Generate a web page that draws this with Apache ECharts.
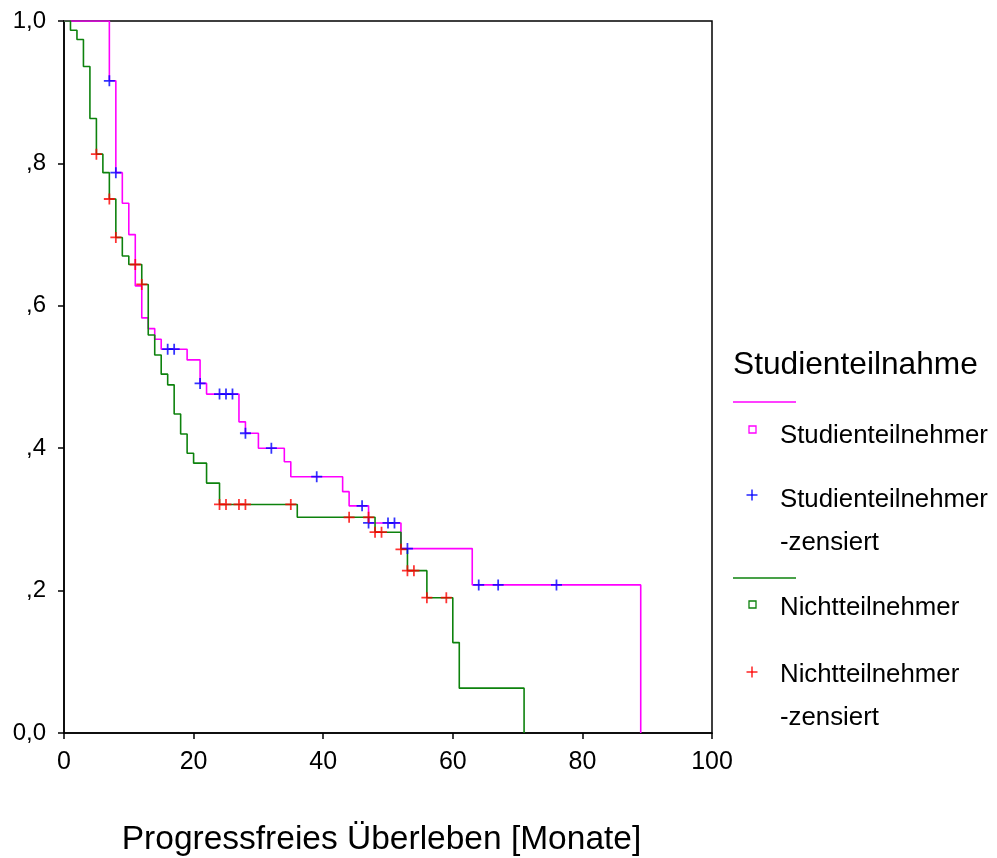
<!DOCTYPE html>
<html>
<head>
<meta charset="utf-8">
<script src="https://cdn.jsdelivr.net/npm/echarts@6/dist/echarts.min.js"></script>
<style>
html,body{margin:0;padding:0;background:#fff;}
#chart{width:997px;height:858px;}
</style>
</head>
<body>
<div id="chart"></div>
<script>
// ---- data ----
var legendTitle = 'Studienteilnahme';
var groupNames = ['Studienteilnehmer', 'Nichtteilnehmer'];
var censorLabel = '-zensiert';
var xAxisTitle = 'Progressfreies Überleben [Monate]';
var xTicks = [0, 20, 40, 60, 80, 100];
var yTickLabels = ['0,0', ',2', ',4', ',6', ',8', '1,0'];

// Studienteilnehmer: Kaplan-Meier step curve
var studTimes = [0, 7, 8, 9, 10, 11, 12, 13, 14, 15, 19, 21, 22, 27, 28, 30, 34, 35, 43, 44, 47, 52, 63, 89];
var studSurv  = [1, 0.916, 0.787, 0.744, 0.700, 0.628, 0.583, 0.568, 0.553, 0.539, 0.524, 0.491, 0.476, 0.437, 0.421, 0.400, 0.381, 0.360, 0.339, 0.319, 0.295, 0.259, 0.208, 0];
// Studienteilnehmer censored
var studCensTimes = [7, 8, 16, 17, 21, 24, 25, 26, 28, 32, 39, 46, 47, 50, 51, 53, 64, 67, 76];
var studCensSurv  = [0.916, 0.787, 0.539, 0.539, 0.491, 0.476, 0.476, 0.476, 0.421, 0.400, 0.360, 0.319, 0.295, 0.295, 0.295, 0.259, 0.208, 0.208, 0.208];

// Nichtteilnehmer: Kaplan-Meier step curve
var nichtTimes = [0, 1, 2, 3, 4, 5, 6, 7, 8, 9, 10, 12, 13, 14, 15, 16, 17, 18, 19, 20, 22, 24, 36, 48, 52, 53, 56, 60, 61, 71];
var nichtSurv  = [1, 0.987, 0.974, 0.936, 0.863, 0.813, 0.787, 0.750, 0.696, 0.670, 0.658, 0.630, 0.559, 0.531, 0.504, 0.489, 0.448, 0.420, 0.393, 0.379, 0.351, 0.321, 0.303, 0.282, 0.258, 0.228, 0.190, 0.127, 0.063, 0];
// Nichtteilnehmer censored
var nichtCensTimes = [5, 7, 8, 11, 12, 24, 25, 27, 28, 35, 44, 47, 48, 49, 52, 53, 54, 56, 59];
var nichtCensSurv  = [0.813, 0.750, 0.696, 0.658, 0.630, 0.321, 0.321, 0.321, 0.321, 0.321, 0.303, 0.303, 0.282, 0.282, 0.258, 0.228, 0.228, 0.190, 0.190];

function zip(a, b) { return a.map(function (v, i) { return [v, b[i]]; }); }

var FONT = "'Liberation Sans', Arial, sans-serif";
var PINK = '#ff00ff', GREEN = '#0d820d', BLUE = '#0000ff', RED = '#ff0000';
var PLUS = 'path://M4.2,0H5.8V10H4.2Z M0,4.2H10V5.8H0Z';

var chart = echarts.init(document.getElementById('chart'), null, {renderer: 'canvas'});

var lx = 733; // legend left
var option = {
  backgroundColor: '#fff',
  animation: false,
  grid: {left: 64, right: 285, top: 21, bottom: 125, show: true, borderColor: '#000', borderWidth: 1.5,
    backgroundColor: 'transparent', containLabel: false, outerBoundsMode: 'none'},
  xAxis: {
    type: 'value', min: xTicks[0], max: xTicks[xTicks.length - 1], interval: 20,
    name: xAxisTitle, nameLocation: 'middle', nameGap: 90,
    nameTextStyle: {fontFamily: FONT, fontSize: 33.5, color: '#000', padding: [0, 13, 0, 0]},
    axisLine: {show: true, lineStyle: {color: '#000', width: 1.5}},
    axisTick: {show: true, length: 6, lineStyle: {color: '#000', width: 1.5}},
    axisLabel: {fontFamily: FONT, fontSize: 25, color: '#000', margin: 17},
    splitLine: {show: false}
  },
  yAxis: {
    type: 'value', min: 0, max: 1, interval: 0.2,
    axisLine: {show: true, lineStyle: {color: '#000', width: 1.5}},
    axisTick: {show: true, length: 6, lineStyle: {color: '#000', width: 1.5}},
    axisLabel: {fontFamily: FONT, fontSize: 24, color: '#000', margin: 18,
      formatter: function (v) { return yTickLabels[Math.round(v * 5)]; }},
    splitLine: {show: false}
  },
  series: [
    {name: groupNames[0], type: 'line', step: 'end', data: zip(studTimes, studSurv), symbol: 'none',
      lineStyle: {color: PINK, width: 1.6}, z: 2},
    {name: groupNames[1], type: 'line', step: 'end', data: zip(nichtTimes, nichtSurv), symbol: 'none',
      lineStyle: {color: GREEN, width: 1.6}, z: 3},
    {name: groupNames[0] + censorLabel, type: 'scatter', data: zip(studCensTimes, studCensSurv),
      symbol: PLUS, symbolSize: 11, itemStyle: {color: BLUE}, z: 4},
    {name: groupNames[1] + censorLabel, type: 'scatter', data: zip(nichtCensTimes, nichtCensSurv),
      symbol: PLUS, symbolSize: 11, itemStyle: {color: RED}, z: 5}
  ],
  graphic: [
    {type: 'text', left: lx, top: 349, style: {text: legendTitle, font: '31.7px ' + FONT, fill: '#000'}},
    {type: 'line', shape: {x1: lx, y1: 402, x2: 796, y2: 402}, style: {stroke: PINK, lineWidth: 1.5}},
    {type: 'rect', shape: {x: 749, y: 426, width: 7, height: 7}, style: {fill: 'none', stroke: PINK, lineWidth: 1.3}},
    {type: 'text', left: 780, top: 423, style: {text: groupNames[0], font: '25.8px ' + FONT, fill: '#000'}},
    {type: 'line', shape: {x1: 746.5, y1: 495, x2: 757.5, y2: 495}, style: {stroke: BLUE, lineWidth: 1.3}},
    {type: 'line', shape: {x1: 752, y1: 489.5, x2: 752, y2: 500.5}, style: {stroke: BLUE, lineWidth: 1.3}},
    {type: 'text', left: 780, top: 487, style: {text: groupNames[0], font: '25.8px ' + FONT, fill: '#000'}},
    {type: 'text', left: 780, top: 530, style: {text: censorLabel, font: '25.8px ' + FONT, fill: '#000'}},
    {type: 'line', shape: {x1: lx, y1: 578, x2: 796, y2: 578}, style: {stroke: GREEN, lineWidth: 1.5}},
    {type: 'rect', shape: {x: 749, y: 601, width: 7, height: 7}, style: {fill: 'none', stroke: GREEN, lineWidth: 1.3}},
    {type: 'text', left: 780, top: 595, style: {text: groupNames[1], font: '25.8px ' + FONT, fill: '#000'}},
    {type: 'line', shape: {x1: 746.5, y1: 672, x2: 757.5, y2: 672}, style: {stroke: RED, lineWidth: 1.3}},
    {type: 'line', shape: {x1: 752, y1: 666.5, x2: 752, y2: 677.5}, style: {stroke: RED, lineWidth: 1.3}},
    {type: 'text', left: 780, top: 662, style: {text: groupNames[1], font: '25.8px ' + FONT, fill: '#000'}},
    {type: 'text', left: 780, top: 705, style: {text: censorLabel, font: '25.8px ' + FONT, fill: '#000'}}
  ]
};
chart.setOption(option);
</script>
</body>
</html>
